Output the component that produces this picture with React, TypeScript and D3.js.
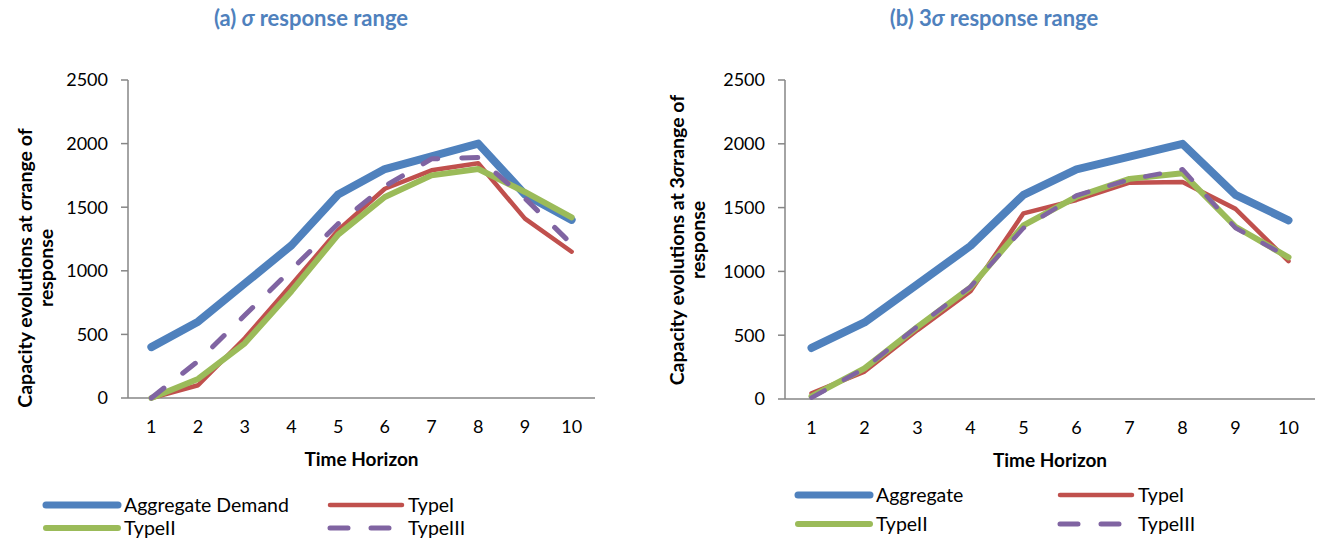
import React from "react";
import * as d3 from "d3";

const categories = [1, 2, 3, 4, 5, 6, 7, 8, 9, 10];
const yTicks = [0, 500, 1000, 1500, 2000, 2500];

// Panel (a): sigma response range
const aAggregate = [400, 600, 900, 1200, 1600, 1800, 1900, 2000, 1600, 1400];
const aTypeI = [0, 100, 470, 890, 1320, 1645, 1790, 1845, 1410, 1150];
const aTypeII = [0, 150, 430, 840, 1285, 1580, 1750, 1800, 1620, 1420];
const aTypeIII = [0, 290, 650, 1010, 1370, 1665, 1880, 1890, 1570, 1210];

// Panel (b): 3 sigma response range
const bAggregate = [400, 600, 900, 1200, 1600, 1800, 1900, 2000, 1600, 1400];
const bTypeI = [45, 215, 540, 845, 1455, 1560, 1695, 1700, 1490, 1080];
const bTypeII = [20, 240, 565, 875, 1360, 1585, 1725, 1770, 1350, 1110];
const bTypeIII = [10, 240, 570, 880, 1340, 1595, 1720, 1800, 1340, 1110];

const COLORS = { agg: "#4F81BD", t1: "#C0504D", t2: "#9BBB59", t3: "#8064A2" };
const FONT = "Lato, 'Open Sans', sans-serif";

type Series = { name: string; values: number[]; color: string; width: number; dash?: string };

type PanelProps = {
  x0: number; x1: number; yTop: number; yBottom: number;
  series: Series[];
  title: React.ReactNode; titleX: number;
  yTitle1: React.ReactNode; yTitleX: number; yTitleY: number;
  legend: { x: number; y: number; len: number; textDx: number; colDx: number; rowDy: number; labels: string[] };
};

function Panel(p: PanelProps) {
  const x = d3.scaleBand<number>().domain(categories).range([p.x0, p.x1]);
  const y = d3.scaleLinear().domain([0, 2500]).range([p.yBottom, p.yTop]);
  const line = d3.line<number>().x((_, i) => (x(categories[i]) as number) + x.bandwidth() / 2).y((v) => y(v));
  const cx = (p.x0 + p.x1) / 2;
  const leg = p.legend;
  return (
    <g>
      <text x={p.titleX} y={26} textAnchor="middle" fontFamily={FONT} fontWeight="bold" fontSize={22} fill="#4F81BD">{p.title}</text>
      {/* y axis */}
      <line x1={p.x0} x2={p.x0} y1={p.yTop} y2={p.yBottom} stroke="#868686" strokeWidth={1.5} />
      {yTicks.map((t) => (
        <g key={t}>
          <line x1={p.x0 - 7} x2={p.x0} y1={y(t)} y2={y(t)} stroke="#868686" strokeWidth={1.5} />
          <text x={p.x0 - 20} y={y(t)} dy="0.36em" textAnchor="end" fontFamily={FONT} fontSize={18} fill="#000">{t}</text>
        </g>
      ))}
      {/* x axis */}
      <line x1={p.x0} x2={p.x1} y1={p.yBottom} y2={p.yBottom} stroke="#868686" strokeWidth={1.5} />
      {categories.map((c) => (
        <text key={c} x={(x(c) as number) + x.bandwidth() / 2} y={p.yBottom + 35} textAnchor="middle" fontFamily={FONT} fontSize={18} fill="#000">{c}</text>
      ))}
      <text x={cx} y={p.yBottom + 68} textAnchor="middle" fontFamily={FONT} fontWeight="bold" fontSize={19} fill="#000">Time Horizon</text>
      {/* y title */}
      <g transform={`translate(${p.yTitleX},${p.yTitleY}) rotate(-90)`}>
        <text x={0} y={0} textAnchor="middle" fontFamily={FONT} fontWeight="bold" fontSize={19.5} fill="#000">{p.yTitle1}</text>
        <text x={0} y={21} textAnchor="middle" fontFamily={FONT} fontWeight="bold" fontSize={19.5} fill="#000">response</text>
      </g>
      {/* series */}
      {p.series.map((s) => (
        <path key={s.name} d={line(s.values) as string} fill="none" stroke={s.color} strokeWidth={s.width}
          strokeDasharray={s.dash} strokeLinecap="round" strokeLinejoin="round" />
      ))}
      {/* legend */}
      {p.series.map((s, i) => {
        const lx = leg.x + (i % 2) * leg.colDx;
        const ly = leg.y + Math.floor(i / 2) * leg.rowDy;
        return (
          <g key={"leg" + s.name}>
            <line x1={lx} x2={lx + leg.len} y1={ly} y2={ly} stroke={s.color} strokeWidth={s.dash ? 5 : Math.min(s.width, 7)}
              strokeLinecap="round" strokeDasharray={s.dash ? "18 23" : undefined} />
            <text x={lx + leg.len + leg.textDx} y={ly} dy="0.36em" fontFamily={FONT} fontSize={19.5} fill="#000">{leg.labels[i]}</text>
          </g>
        );
      })}
    </g>
  );
}

export default function App() {
  const sigma = <tspan fontStyle="italic">σ</tspan>;
  const aSeries: Series[] = [
    { name: "agg", values: aAggregate, color: COLORS.agg, width: 8 },
    { name: "t1", values: aTypeI, color: COLORS.t1, width: 4.5 },
    { name: "t2", values: aTypeII, color: COLORS.t2, width: 6 },
    { name: "t3", values: aTypeIII, color: COLORS.t3, width: 5, dash: "16 24" },
  ];
  const bSeries: Series[] = [
    { name: "agg", values: bAggregate, color: COLORS.agg, width: 8 },
    { name: "t1", values: bTypeI, color: COLORS.t1, width: 4.5 },
    { name: "t2", values: bTypeII, color: COLORS.t2, width: 6 },
    { name: "t3", values: bTypeIII, color: COLORS.t3, width: 4.5, dash: "15 22" },
  ];
  return (
    <svg width={1320} height={542} style={{ position: "absolute", left: 0, top: 0, background: "#fff" }}>
      <rect width={1320} height={542} fill="#fff" />
      <Panel x0={128} x1={595} yTop={80} yBottom={398} series={aSeries}
        title={<>(a) {sigma} response range</>} titleX={311}
        yTitle1={<>Capacity evolutions at {sigma}range of</>} yTitleX={32} yTitleY={268}
        legend={{ x: 46, y: 505, len: 72, textDx: 6, colDx: 284, rowDy: 23, labels: ["Aggregate Demand", "TypeI", "TypeII", "TypeIII"] }} />
      <Panel x0={785} x1={1315} yTop={80} yBottom={399} series={bSeries}
        title={<>(b) 3{sigma} response range</>} titleX={994}
        yTitle1={<>Capacity evolutions at 3{sigma}range of</>} yTitleX={684} yTitleY={240}
        legend={{ x: 798, y: 495, len: 72, textDx: 6, colDx: 262, rowDy: 29, labels: ["Aggregate", "TypeI", "TypeII", "TypeIII"] }} />
    </svg>
  );
}
